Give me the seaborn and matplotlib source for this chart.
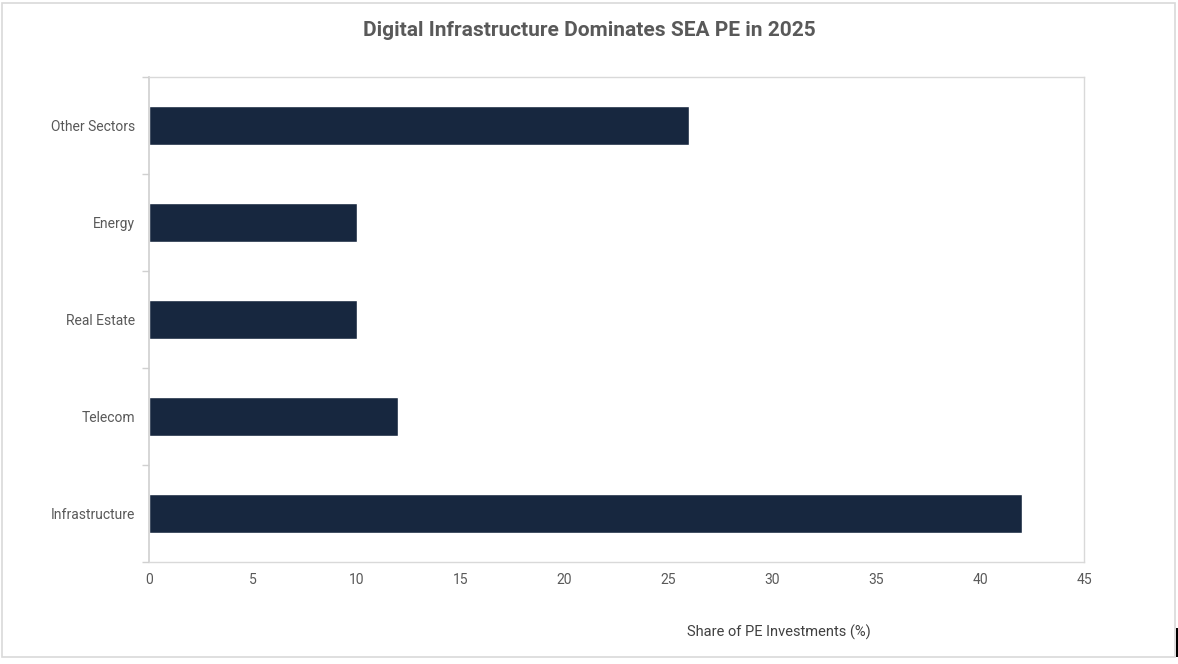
import matplotlib
matplotlib.use("Agg")
import matplotlib.pyplot as plt
import seaborn as sns
from matplotlib.patches import Rectangle

# data, top to bottom as drawn
sectors = ["Other Sectors", "Energy", "Real Estate", "Telecom", "Infrastructure"]
share = [26, 10, 10, 12, 42]
x_ticks = [0, 5, 10, 15, 20, 25, 30, 35, 40, 45]

sns.set_theme(style="white")
plt.rcParams["font.family"] = ["Roboto", "DejaVu Sans"]

fig = plt.figure(figsize=(11.78, 6.64), dpi=100)
ax = fig.add_axes([149 / 1178, 1 - 562 / 664, 935 / 1178, 485 / 664])

sns.barplot(x=share, y=sectors, orient="h", color="#17273f", width=0.4,
            saturation=1, ax=ax)

ax.set_xlim(0, 45)
ax.set_ylim(4.5, -0.5)
ax.set_xticks(x_ticks)
ax.tick_params(axis="x", length=0, pad=8, labelsize=10, labelcolor="#595959")
ax.tick_params(axis="y", which="major", length=0, pad=10, labelsize=10,
               labelcolor="#595959")
# category separators on the y axis
ax.set_yticks([i - 0.5 for i in range(len(sectors) + 1)], minor=True)
ax.tick_params(axis="y", which="minor", left=True, length=5, width=1,
               color="#d0d0d0")

for side in ["top", "right", "bottom"]:
    ax.spines[side].set_color("#d9d9d9")
    ax.spines[side].set_linewidth(1)
ax.spines["left"].set_color("#cfcfcf")
ax.spines["left"].set_linewidth(1.2)

ax.set_ylabel("")
ax.set_xlabel("Share of PE Investments (%)", fontsize=10.5, color="#404040")
ax.xaxis.set_label_coords((779 - 149) / 935, (562 - 625) / 485)

fig.suptitle("Digital Infrastructure Dominates SEA PE in 2025", x=0.5,
             y=1 - 31 / 664, va="center", fontsize=15, fontweight="bold",
             color="#595959")

# outer chart border
fig.patches.append(Rectangle((2 / 1178, 1 - 657 / 664), 1173 / 1178, 654 / 664,
                             transform=fig.transFigure, fill=False,
                             edgecolor="#d9d9d9", linewidth=1.2))
fig.patches.append(Rectangle((1175.5 / 1178, 1 - 657 / 664), 2.5 / 1178, 29 / 664,
                             transform=fig.transFigure, facecolor="black",
                             edgecolor="none"))

fig.savefig("out.png", dpi=100)
